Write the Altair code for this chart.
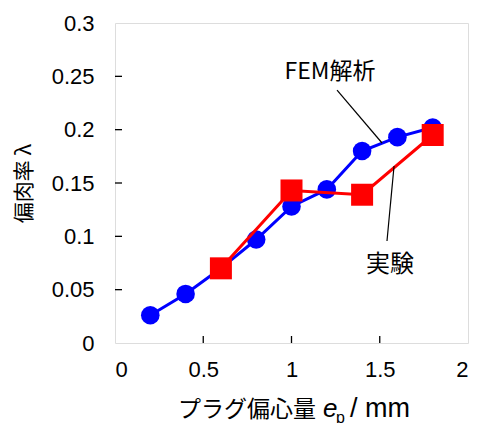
import altair as alt
import pandas as pd

# FEM analysis (blue circles)
fem_x = [0.2, 0.4, 0.6, 0.8, 1.0, 1.2, 1.4, 1.6, 1.8]
fem_y = [0.026, 0.046, 0.070, 0.097, 0.128, 0.144, 0.180, 0.193, 0.202]
# Experiment (red squares)
exp_x = [0.6, 1.0, 1.4, 1.8]
exp_y = [0.070, 0.143, 0.139, 0.195]

x_ticks = [0, 0.5, 1, 1.5, 2]
y_ticks = [0, 0.05, 0.1, 0.15, 0.2, 0.25, 0.3]

# annotation leader lines (data coordinates)
ann_label = ["FEM解析", "実験"]
ann_x1 = [1.258, 1.581]
ann_y1 = [0.237, 0.166]
ann_x2 = [1.513, 1.541]
ann_y2 = [0.1875, 0.0956]
ann_tx = [1.218, 1.558]
ann_ty = [0.2536, 0.0731]
ann_fs = [23, 24]

W, H = 353, 320
LAT = "Liberation Sans"
JP = "Noto Sans CJK JP"

fem = pd.DataFrame({"x": fem_x, "y": fem_y})
exp = pd.DataFrame({"x": exp_x, "y": exp_y})

xs = alt.Scale(domain=[0, 2], nice=False, zero=False)
ys = alt.Scale(domain=[0, 0.3], nice=False, zero=False)

X = alt.X("x:Q", scale=xs, axis=alt.Axis(values=x_ticks, format="~g", title=None,
                                         ticks=False, domain=False, grid=False,
                                         labelFont=LAT, labelFontSize=22, labelColor="black",
                                         labelPadding=16))
Y = alt.Y("y:Q", scale=ys, axis=alt.Axis(values=y_ticks, format="~g", title="偏肉率 λ",
                                         titleFont=JP, titleFontSize=21, titleFontWeight="normal",
                                         titleColor="black", titleX=-91, titleY=160,
                                         titleAngle=270, titleAlign="center", titleBaseline="middle",
                                         ticks=False, domain=False, grid=False,
                                         labelFont=LAT, labelFontSize=22, labelColor="black",
                                         labelPadding=21))

fem_line = alt.Chart(fem).mark_line(color="#0000FF", strokeWidth=3).encode(x=X, y=Y)
fem_pts = alt.Chart(fem).mark_point(shape="circle", filled=True, color="#0000FF", size=346, opacity=1).encode(x="x:Q", y="y:Q")
exp_line = alt.Chart(exp).mark_line(color="#FF0000", strokeWidth=3).encode(x="x:Q", y="y:Q")
exp_pts = alt.Chart(exp).mark_point(shape="square", filled=True, color="#FF0000", size=484, opacity=1).encode(x="x:Q", y="y:Q")

ann = pd.DataFrame({"label": ann_label, "x1": ann_x1, "y1": ann_y1, "x2": ann_x2, "y2": ann_y2,
                    "tx": ann_tx, "ty": ann_ty, "fs": ann_fs})
ann_rules = alt.Chart(ann).mark_rule(color="black", strokeWidth=1.2).encode(
    x="x1:Q", y="y1:Q", x2="x2:Q", y2="y2:Q")
ann_text = alt.Chart(ann).mark_text(font=JP, color="black", align="center",
                                    baseline="middle").encode(
    x="tx:Q", y="ty:Q", text="label:N",
    size=alt.Size("fs:Q", scale=None, legend=None))

xt = pd.DataFrame({"v": [0.5, 1.0, 1.5]})
yt = pd.DataFrame({"v": [0.05, 0.1, 0.15, 0.2, 0.25]})
xtick = alt.Chart(xt).mark_rule(color="black", strokeWidth=1.3).encode(
    x="v:Q", y=alt.value(H), y2=alt.value(H - 7))
ytick = alt.Chart(yt).mark_rule(color="black", strokeWidth=1.3).encode(
    y="v:Q", x=alt.value(0), x2=alt.value(7))

# x axis title with italic symbol and subscript
t1 = alt.Chart(pd.DataFrame({"t": ["プラグ偏心量"]})).mark_text(
    font=JP, fontSize=23, align="right", baseline="alphabetic", color="black").encode(
    x=alt.value(201), y=alt.value(394), text="t:N")
t2 = alt.Chart(pd.DataFrame({"t": ["e"]})).mark_text(
    font=LAT, fontSize=26, fontStyle="italic", align="left", baseline="alphabetic", color="black").encode(
    x=alt.value(208), y=alt.value(394), text="t:N")
t3 = alt.Chart(pd.DataFrame({"t": ["p"]})).mark_text(
    font=LAT, fontSize=16, align="left", baseline="alphabetic", color="black").encode(
    x=alt.value(221), y=alt.value(400), text="t:N")
t4 = alt.Chart(pd.DataFrame({"t": ["/ mm"]})).mark_text(
    font=LAT, fontSize=27, align="left", baseline="alphabetic", color="black").encode(
    x=alt.value(235), y=alt.value(394), text="t:N")

chart = alt.layer(fem_line, fem_pts, exp_line, exp_pts, ann_rules, ann_text,
                  xtick, ytick, t1, t2, t3, t4).properties(
    width=W, height=H,
    autosize=alt.AutoSizeParams(type="none"),
    padding={"left": 107, "top": 15, "right": 2, "bottom": 80},
).configure_view(stroke="black", strokeWidth=1.5).configure(background="white")

chart.save("out.html", embed_options={"renderer": "svg", "actions": False})
